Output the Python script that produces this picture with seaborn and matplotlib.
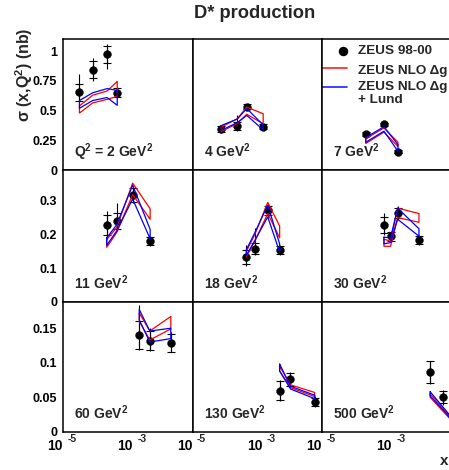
import numpy as np
import matplotlib
matplotlib.use("Agg")
import matplotlib.pyplot as plt
import seaborn as sns
from matplotlib.ticker import FixedLocator, FixedFormatter, MultipleLocator, NullFormatter, LogLocator
from matplotlib.lines import Line2D

# ---------------- data ----------------
q2_labels = ["Q$^2$ = 2 GeV$^2$", "4 GeV$^2$", "7 GeV$^2$",
             "11 GeV$^2$", "18 GeV$^2$", "30 GeV$^2$",
             "60 GeV$^2$", "130 GeV$^2$", "500 GeV$^2$"]

# log10(x) of the measured points per panel
data_logx = [
    [-4.53, -4.15, -3.74, -3.45],
    [-4.18, -3.72, -3.45, -2.98],
    [-3.75, -3.23, -2.83],
    [-3.75, -3.47, -3.01, -2.51],
    [-3.46, -3.22, -2.85, -2.51],
    [-3.23, -3.04, -2.84, -2.23],
    [-2.82, -2.52, -1.92],
    [-2.51, -2.20, -1.51],
    [-1.91, -1.53],
]
sigma = [
    [0.655, 0.845, 0.972, 0.652],
    [0.345, 0.372, 0.533, 0.365],
    [0.305, 0.387, 0.156],
    [0.228, 0.240, 0.317, 0.181],
    [0.133, 0.158, 0.271, 0.154],
    [0.228, 0.194, 0.263, 0.183],
    [0.1406, 0.132, 0.129],
    [0.0594, 0.076, 0.0435],
    [0.086, 0.050],
]
stat_err = [
    [0.072, 0.075, 0.070, 0.035],
    [0.025, 0.030, 0.020, 0.020],
    [0.020, 0.012, 0.012],
    [0.030, 0.025, 0.020, 0.012],
    [0.020, 0.017, 0.012, 0.012],
    [0.025, 0.012, 0.015, 0.012],
    [0.020, 0.014, 0.013],
    [0.014, 0.009, 0.006],
    [0.016, 0.009],
]
tot_err_up = [
    [0.150, 0.095, 0.085, 0.050],
    [0.030, 0.088, 0.025, 0.022],
    [0.025, 0.015, 0.015],
    [0.040, 0.052, 0.025, 0.015],
    [0.035, 0.060, 0.018, 0.015],
    [0.035, 0.015, 0.020, 0.015],
    [0.043, 0.018, 0.015],
    [0.016, 0.011, 0.008],
    [0.017, 0.011],
]
tot_err_dn = [
    [0.080, 0.095, 0.120, 0.050],
    [0.035, 0.042, 0.025, 0.022],
    [0.025, 0.015, 0.015],
    [0.040, 0.030, 0.025, 0.015],
    [0.025, 0.020, 0.018, 0.015],
    [0.030, 0.015, 0.020, 0.015],
    [0.022, 0.015, 0.013],
    [0.015, 0.011, 0.008],
    [0.017, 0.011],
]

# theory bands (NLO and NLO + Lund): x nodes, upper and lower edges
band_logx = [
    [-4.53, -4.15, -3.74, -3.45],
    [-4.18, -3.72, -3.45, -2.98],
    [-3.75, -3.23, -2.83],
    [-3.75, -3.47, -3.01, -2.51],
    [-3.46, -3.22, -2.85, -2.51],
    [-3.23, -3.04, -2.84, -2.23],
    [-2.82, -2.52, -1.92],
    [-2.51, -2.20, -1.51],
    [-1.91, -1.53, -1.20],
]
nlo_upper = [
    [0.540, 0.630, 0.665, 0.745],
    [0.362, 0.432, 0.530, 0.474],
    [0.265, 0.355, 0.235],
    [0.185, 0.220, 0.352, 0.276],
    [0.150, 0.200, 0.295, 0.225],
    [0.186, 0.180, 0.278, 0.262],
    [0.172, 0.146, 0.167],
    [0.095, 0.068, 0.057],
    [0.055, 0.033, 0.014],
]
nlo_lower = [
    [0.480, 0.565, 0.595, 0.620],
    [0.325, 0.392, 0.470, 0.390],
    [0.225, 0.320, 0.200],
    [0.162, 0.205, 0.318, 0.245],
    [0.135, 0.180, 0.262, 0.190],
    [0.165, 0.165, 0.250, 0.236],
    [0.160, 0.133, 0.149],
    [0.088, 0.064, 0.051],
    [0.050, 0.029, 0.011],
]
lund_upper = [
    [0.585, 0.650, 0.685, 0.670],
    [0.375, 0.430, 0.518, 0.380],
    [0.275, 0.365, 0.215],
    [0.190, 0.228, 0.346, 0.215],
    [0.155, 0.205, 0.287, 0.172],
    [0.192, 0.190, 0.278, 0.217],
    [0.177, 0.146, 0.150],
    [0.098, 0.066, 0.053],
    [0.058, 0.035, 0.015],
]
lund_lower = [
    [0.520, 0.585, 0.610, 0.545],
    [0.335, 0.400, 0.460, 0.340],
    [0.235, 0.328, 0.160],
    [0.168, 0.210, 0.305, 0.187],
    [0.138, 0.182, 0.252, 0.148],
    [0.172, 0.176, 0.245, 0.195],
    [0.162, 0.130, 0.135],
    [0.088, 0.062, 0.048],
    [0.052, 0.031, 0.012],
]

row_ymax = [1.105, 0.39, 0.188]
row_yticks = [[0, 0.25, 0.5, 0.75, 1.0], [0, 0.1, 0.2, 0.3], [0, 0.05, 0.1, 0.15]]
row_yticklabels = [["0", "0.25", "0.5", "0.75", "1"], ["0", "0.1", "0.2", "0.3"], ["0", "0.05", "0.1", "0.15"]]
row_yminor = [0.05, 0.05, 0.01]
x_major = [1e-5, 1e-4, 1e-3, 1e-2]
x_major_labels = ["10", "", "10", ""]
x_label_exponents = [(1e-5, "-5"), (1e-3, "-3")]

legend_labels = ["ZEUS 98-00", "ZEUS NLO Δg", "ZEUS NLO Δg", "+ Lund"]

# ---------------- style ----------------
sns.set_style("white")
plt.rcParams["font.family"] = ["Liberation Sans", "DejaVu Sans"]
plt.rcParams["font.weight"] = "bold"
plt.rcParams["mathtext.fontset"] = "custom"
plt.rcParams["mathtext.rm"] = "Liberation Sans:bold"
plt.rcParams["mathtext.it"] = "Liberation Sans:bold"
plt.rcParams["mathtext.bf"] = "Liberation Sans:bold"
plt.rcParams["mathtext.sf"] = "Liberation Sans:bold"
plt.rcParams["mathtext.default"] = "rm"

W, H = 449, 470
fig = plt.figure(figsize=(W / 100, H / 100), dpi=100)
fig.patch.set_facecolor("white")

col_left = [63, 192.5, 322]
col_w = 129.5
row_top = [38.5, 170.3, 302]
row_bot = [170.3, 302, 431.8]

for i in range(9):
    r, c = divmod(i, 3)
    ax = fig.add_axes([col_left[c] / W, 1 - row_bot[r] / H, col_w / W, (row_bot[r] - row_top[r]) / H])
    ax.set_facecolor("white")
    ax.set_xscale("log")
    ax.set_xlim(1e-5, 10 ** (-5 + col_w / 35.0))
    ax.set_ylim(0, row_ymax[r])

    x = 10 ** np.array(data_logx[i])
    y = np.array(sigma[i])
    # total errors (no caps) and statistical errors (with caps)
    ax.errorbar(x, y, yerr=[tot_err_dn[i], tot_err_up[i]], fmt="none", ecolor="black",
                elinewidth=0.8, capsize=0, zorder=2)
    ax.errorbar(x, y, yerr=stat_err[i], fmt="none", ecolor="black",
                elinewidth=0.8, capsize=2.6, capthick=0.8, zorder=2)
    sns.scatterplot(x=x, y=y, ax=ax, color="black", s=32, edgecolor="black", linewidth=0.3, zorder=3, legend=False)

    bx = list(band_logx[i])
    for up, lo, col in [(nlo_upper[i], nlo_lower[i], "#ff0000"), (lund_upper[i], lund_lower[i], "#0000ff")]:
        px = 10 ** np.array(bx + bx[::-1] + [bx[0]])
        py = np.array(list(up) + list(lo)[::-1] + [up[0]])
        sns.lineplot(x=px, y=py, ax=ax, sort=False, estimator=None, color=col, linewidth=0.9, zorder=4)

    # axes look
    for s in ax.spines.values():
        s.set_linewidth(1.1)
        s.set_color("black")
    ax.xaxis.set_major_locator(FixedLocator(x_major))
    ax.xaxis.set_minor_locator(LogLocator(base=10, subs=np.arange(2, 10)))
    ax.xaxis.set_minor_formatter(NullFormatter())
    ax.yaxis.set_major_locator(FixedLocator(row_yticks[r]))
    ax.yaxis.set_minor_locator(MultipleLocator(row_yminor[r]))
    ax.tick_params(which="both", direction="in", top=False, right=False, width=0.8, colors="black")
    ax.tick_params(which="major", length=5.2)
    ax.tick_params(which="minor", length=2.6)
    ax.tick_params(axis="y", pad=4.2, labelsize=9)
    ax.tick_params(axis="x", pad=5.3, labelsize=10)
    if r == 2:
        ax.xaxis.set_major_formatter(FixedFormatter(x_major_labels))
        for lab in ax.get_xticklabels():
            lab.set_horizontalalignment("right")
        for xv, ex in x_label_exponents:
            ax.annotate(ex, xy=(xv, 0), xycoords=("data", "axes fraction"),
                        xytext=(3.2, -1.6), textcoords="offset points",
                        ha="left", va="top", fontsize=7.5, fontweight="bold")
    else:
        ax.set_xticklabels([])
    if c == 0:
        ax.yaxis.set_major_formatter(FixedFormatter(row_yticklabels[r]))
    else:
        ax.set_yticklabels([])
    for lab in ax.get_xticklabels() + ax.get_yticklabels():
        lab.set_fontweight("bold")

    ax.text(0.085, 0.1, q2_labels[i], transform=ax.transAxes, fontsize=10,
            fontweight="bold", ha="left", va="baseline", zorder=6)

    if i == 2:
        ax.add_line(Line2D([0.165], [0.905], marker="o", color="black", markersize=5.8,
                           transform=ax.transAxes, linestyle="none"))
        ax.add_line(Line2D([0.0, 0.19], [0.773, 0.773], color="#ff2020", linewidth=1.2, transform=ax.transAxes))
        ax.add_line(Line2D([0.0, 0.19], [0.629, 0.629], color="#2020ff", linewidth=1.2, transform=ax.transAxes))
        ys = [0.905, 0.753, 0.631, 0.532]
        for lab, yy in zip(legend_labels, ys):
            ax.text(0.278, yy, lab, transform=ax.transAxes, fontsize=9.7, fontweight="bold",
                    ha="left", va="center")

fig.text(255 / W, 1 - 18.3 / H, "D* production", ha="center", va="baseline",
         fontsize=13.2, fontweight="bold")
fig.text(24 / W, 1 - 28 / H, "σ (x,Q$^2$) (nb)", rotation=90, ha="center", va="top",
         fontsize=11.5, fontweight="bold")
fig.text(448.5 / W, 1 - 461 / H, "x", ha="right", va="center", fontsize=11, fontweight="bold")

fig.savefig("out.png", dpi=100)
